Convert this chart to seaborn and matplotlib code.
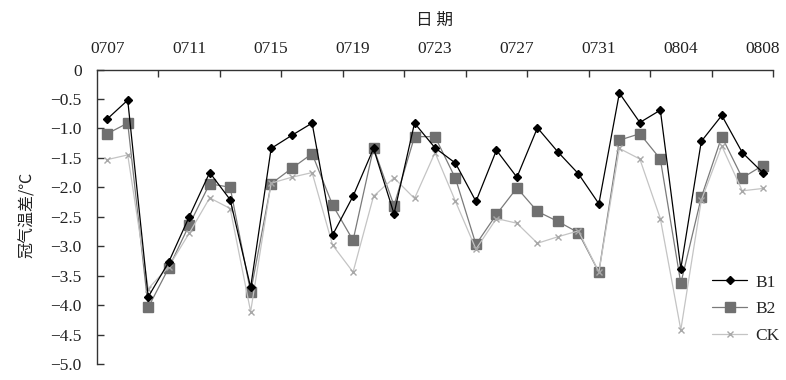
import matplotlib
matplotlib.use("Agg")
import matplotlib.pyplot as plt
import seaborn as sns
import numpy as np
import pandas as pd

dates = ["0707", "0708", "0709", "0710", "0711", "0712", "0713", "0714", "0715", "0716",
         "0717", "0718", "0719", "0720", "0721", "0722", "0723", "0724", "0725", "0726",
         "0727", "0728", "0729", "0730", "0731", "0801", "0802", "0803", "0804", "0805",
         "0806", "0807", "0808"]

b1 = [-0.84, -0.52, -3.86, -3.27, -2.50, -1.75, -2.21, -3.70, -1.34, -1.12,
      -0.91, -2.81, -2.15, -1.34, -2.45, -0.91, -1.33, -1.59, -2.24, -1.37,
      -1.83, -0.99, -1.40, -1.77, -2.28, -0.40, -0.90, -0.69, -3.38, -1.22,
      -0.78, -1.41, -1.75]
b2 = [-1.09, -0.91, -4.04, -3.37, -2.64, -1.94, -2.00, -3.78, -1.94, -1.68,
      -1.43, -2.30, -2.90, -1.33, -2.31, -1.14, -1.14, -1.85, -2.97, -2.46,
      -2.01, -2.41, -2.58, -2.77, -3.44, -1.20, -1.09, -1.52, -3.63, -2.17,
      -1.14, -1.84, -1.63]
ck = [-1.53, -1.45, -3.72, -3.35, -2.78, -2.18, -2.36, -4.11, -1.93, -1.83,
      -1.75, -2.98, -3.44, -2.15, -1.84, -2.19, -1.41, -2.24, -3.05, -2.53,
      -2.61, -2.95, -2.84, -2.74, -3.44, -1.34, -1.52, -2.53, -4.42, -2.22,
      -1.30, -2.06, -2.02]

series_names = ["B1", "B2", "CK"]
yticks = [0, -0.5, -1.0, -1.5, -2.0, -2.5, -3.0, -3.5, -4.0, -4.5, -5.0]
xlabel_text = "日 期"
ylabel_text = "冠气温差/℃"

sns.set_theme(style="white")
plt.rcParams['font.family'] = ['Liberation Serif', 'Noto Sans CJK SC', 'DejaVu Sans']

fig = plt.figure(figsize=(7.86, 3.80), dpi=100)
ax = fig.add_axes([97/786, 1 - 364/380, (773-97)/786, (364-69.5)/380])

x = np.arange(len(dates))
styles = {
    "B1": dict(color="black", marker="D", markersize=4, mfc="black", mec="black", lw=0.9),
    "B2": dict(color="#7a7a7a", marker="s", markersize=6.5, mfc="#707070", mec="#707070", lw=0.9),
    "CK": dict(color="#c4c4c4", marker="x", markersize=5, mfc="#b0b0b0", mec="#a8a8a8", lw=0.9),
}
for name, vals in zip(series_names, [b1, b2, ck]):
    st = styles[name]
    sns.lineplot(x=x, y=vals, ax=ax, color=st["color"], linewidth=st["lw"],
                 marker=st["marker"], markersize=st["markersize"],
                 markerfacecolor=st["mfc"], markeredgecolor=st["mec"],
                 markeredgewidth=1.0, label=name, zorder=3 if name == "B1" else 2)

ax.set_xlim(-0.5, len(dates) - 0.5)
ax.set_ylim(-5.0, 0)

for s in ["bottom", "right"]:
    ax.spines[s].set_visible(False)
for s in ["top", "left"]:
    ax.spines[s].set_visible(True)
    ax.spines[s].set_color("#333333")
    ax.spines[s].set_linewidth(1.0)

ax.xaxis.tick_top()
ax.set_xticks(x[::4])
ax.set_xticklabels([dates[i] for i in x[::4]])
ax.set_xticks(np.arange(2.5, len(dates), 3), minor=True)
ax.tick_params(axis="x", which="major", length=0, pad=9, labelsize=12.5, labelcolor="#222222", top=True, bottom=False)
ax.tick_params(axis="x", which="minor", length=5, width=1.0, direction="in", color="#333333", top=True, bottom=False)

ax.set_yticks(yticks)
ax.set_yticklabels(["0" if v == 0 else f"\u2212{abs(v):.1f}" for v in yticks])
ax.tick_params(axis="y", which="major", length=5, width=1.0, direction="in", color="#333333",
               pad=11, labelsize=12.5, labelcolor="#222222", left=True)

ax.grid(False)
ax.set_xlabel("")
ax.set_ylabel("")
fig.text(435/786, 1 - 20/380, xlabel_text, ha="center", va="center", fontsize=12,
         family=['Noto Sans CJK SC', 'DejaVu Sans'], color="#222222")
fig.text(27/786, 1 - 215/380, ylabel_text, ha="center", va="center", fontsize=11.5, rotation=90,
         family=['Noto Sans CJK SC', 'DejaVu Sans'], color="#222222")

ax.legend(loc="center left", bbox_to_anchor=(700/786, 1 - 309/380), bbox_transform=fig.transFigure,
          frameon=False, fontsize=12.5, handlelength=2.0, handletextpad=0.5, labelspacing=0.6,
          borderpad=0.2)

fig.savefig("out.png", dpi=100)
